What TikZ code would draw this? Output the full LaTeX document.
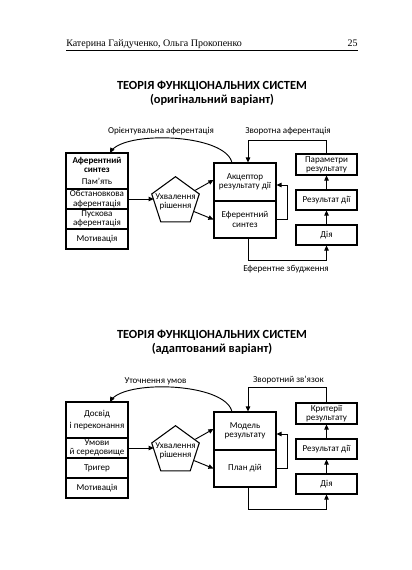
\documentclass[tikz,border=0pt]{standalone}
\usepackage{fontspec}
\setmainfont{Carlito}
\newfontfamily\hdrfont{Liberation Serif}
\usetikzlibrary{shapes.geometric,arrows.meta,calc}
\begin{document}
\begin{tikzpicture}[x=0.75pt,y=-0.75pt,
  cell/.style={draw,line width=0.8pt,inner sep=0pt,align=center,font=\fontsize{6.8}{7}\selectfont},
  lw/.style={minimum width=46.5pt},
  rw/.style={minimum width=45.75pt},
  conn/.style={line width=0.7pt},
  arr/.style={conn,-{Triangle[length=3.8pt,width=3.4pt]}},
  lbl/.style={font=\fontsize{6.8}{8}\selectfont,inner sep=0pt},
  ttl/.style={font=\bfseries\fontsize{9.3}{11}\selectfont,inner sep=0pt,anchor=base},
  pent/.style={draw,line width=0.8pt,regular polygon,regular polygon sides=5,minimum size=37.5pt,inner sep=-9pt,align=center,font=\fontsize{6.8}{7}\selectfont}
]
\useasboundingbox (0,0) rectangle (411,570);
% header
\node[anchor=base west,font=\hdrfont\fontsize{7.5}{9}\selectfont,inner sep=0pt] (hdr) at (66,47) {Катерина Гайдученко, Ольга Прокопенко};
\node[anchor=base east,font=\hdrfont\fontsize{7.5}{9}\selectfont,inner sep=0pt] (pg) at (358,47) {25};
\draw[line width=0.5pt] (66,50.5) -- (358,50.5);
% titles
\node[ttl] (t1) at (212,89.3) {ТЕОРІЯ ФУНКЦІОНАЛЬНИХ СИСТЕМ};
\node[ttl] (t1b) at (212,104) {(оригінальний варіант)};
\node[ttl] (t2) at (212,338.3) {ТЕОРІЯ ФУНКЦІОНАЛЬНИХ СИСТЕМ};
\node[ttl] (t2b) at (212,352.7) {(адаптований варіант)};

% ---------- diagram 1
\node[cell,lw,minimum height=27pt] (a1) at (97,171) {\textbf{Аферентний}\\\textbf{синтез}\\[2pt]Пам’ять};
\node[cell,lw,minimum height=15pt] (a2) at (97,199) {Обстановкова\\аферентація};
\node[cell,lw,minimum height=15pt] (a3) at (97,219) {Пускова\\аферентація};
\node[cell,lw,minimum height=15pt] (a4) at (97,239) {Мотивація};
\node[pent] (p1) at (175.5,201.7) {Ухвалення\\рішення};
\node[cell,lw,minimum height=28.5pt] (m1) at (245,182) {Акцептор\\результату дії};
\node[cell,lw,minimum height=27.75pt] (m2) at (245,219.5) {Еферентний\\синтез};
\node[cell,rw,minimum height=15.75pt] (r1) at (326.5,164.5) {Параметри\\результату};
\node[cell,rw,minimum height=15pt] (r2) at (326.5,200) {Результат дії};
\node[cell,rw,minimum height=15pt] (r3) at (326.5,235) {Дія};

\draw[arr] (a2.east) -- (a2.east -| p1.180);
\draw[arr] (p1.30) -- ($(m1.west)+(0,-2)$);
\draw[arr] (p1.-28) -- (m2.west);
\draw[arr] (m2.east) -- ++(11,0) |- ($(m1.east)+(0,3)$);
\draw[arr] (r3.north) -- (r2.south);
\draw[arr] (r2.north) -- (r1.south);
\draw[arr] ($(m2.south)+(3,0)$) -- ++(0,22) -| (r3.south);
\draw[arr] (r1.north) -- ++(0,-13) -| ($(m1.north)+(3,0)$);
% orienting afference arc (m1 top -> a1 top), sampled Bezier
\draw[arr] plot[domain=0:1,samples=40,variable=\t]
  ({(1-\t)^3*232+3*(1-\t)^2*\t*226+3*(1-\t)*\t^2*120+\t^3*110},
   {(1-\t)^3*163+3*(1-\t)^2*\t*133+3*(1-\t)*\t^2*130+\t^3*153});
\node[lbl] (l1) at (161,131) {Орієнтувальна аферентація};
\node[lbl] (l2) at (288,131) {Зворотна аферентація};
\node[lbl] (l3) at (286,269.5) {Еферентне збудження};

% ---------- diagram 2
\begin{scope}[yshift=-186.75pt]
\node[cell,lw,minimum height=27pt] (b1) at (97,171) {Досвід\\[1.5pt]і переконання};
\node[cell,lw,minimum height=15pt] (b2) at (97,199) {Умови\\й середовище};
\node[cell,lw,minimum height=15pt] (b3) at (97,219) {Тригер};
\node[cell,lw,minimum height=15pt] (b4) at (97,239) {Мотивація};
\node[pent] (p2) at (175.5,201.7) {Ухвалення\\рішення};
\node[cell,lw,minimum height=28.5pt] (n1) at (245,182) {Модель\\результату};
\node[cell,lw,minimum height=27.75pt] (n2) at (245,219.5) {План дій};
\node[cell,rw,minimum height=15.75pt] (s1) at (326.5,164.5) {Критерії\\результату};
\node[cell,rw,minimum height=15pt] (s2) at (326.5,200) {Результат дії};
\node[cell,rw,minimum height=15pt] (s3) at (326.5,235) {Дія};

\draw[arr] (b2.east) -- (b2.east -| p2.180);
\draw[arr] (p2.30) -- ($(n1.west)+(0,-2)$);
\draw[arr] (p2.-28) -- (n2.west);
\draw[arr] (n2.east) -- ++(11,0) |- ($(n1.east)+(0,3)$);
\draw[arr] (s3.north) -- (s2.south);
\draw[arr] (s2.north) -- (s1.south);
\draw[arr] ($(n2.south)+(3,0)$) -- ++(0,22) -| (s3.south);
\draw[arr] (s1.north) -- ++(0,-15) -| ($(n1.north)+(3,0)$);
\draw[arr] plot[domain=0:1,samples=40,variable=\t]
  ({(1-\t)^3*232+3*(1-\t)^2*\t*226+3*(1-\t)*\t^2*120+\t^3*110},
   {(1-\t)^3*163+3*(1-\t)^2*\t*133+3*(1-\t)*\t^2*130+\t^3*153});
\node[lbl] (k1) at (155.5,132) {Уточнення умов};
\node[lbl] (k2) at (288.5,131) {Зворотний зв’язок};
\end{scope}
\end{tikzpicture}
\end{document}
